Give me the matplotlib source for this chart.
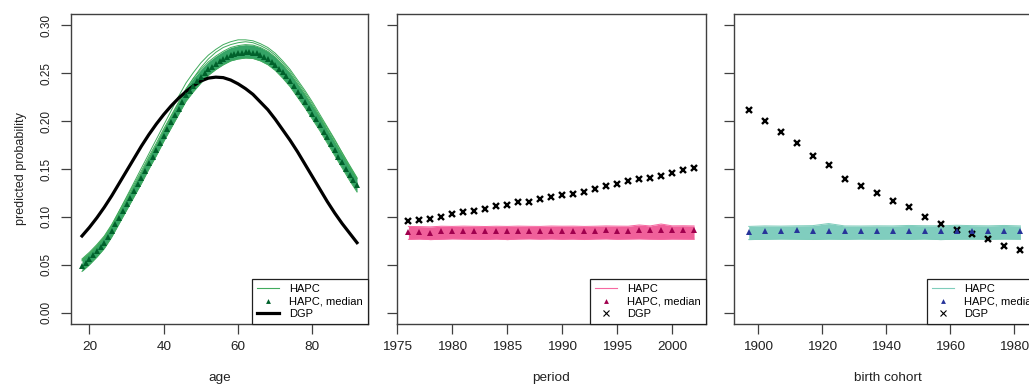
import matplotlib
matplotlib.use("Agg")
import matplotlib.pyplot as plt
from matplotlib.lines import Line2D

plt.rcParams['font.family'] = ['Liberation Sans', 'DejaVu Sans']

# ---- age panel ----
age = list(range(18, 93))
age_med = [0.049, 0.052, 0.056, 0.060, 0.064, 0.068, 0.073, 0.079, 0.085, 0.092,
           0.099, 0.106, 0.113, 0.120, 0.127, 0.134, 0.141, 0.148, 0.156, 0.163,
           0.170, 0.177, 0.185, 0.192, 0.199, 0.206, 0.213, 0.220, 0.227, 0.232,
           0.237, 0.242, 0.246, 0.250, 0.254, 0.257, 0.260, 0.263, 0.265, 0.267,
           0.269, 0.270, 0.271, 0.2715, 0.272, 0.272, 0.2715, 0.271, 0.269, 0.267,
           0.265, 0.262, 0.259, 0.255, 0.251, 0.247, 0.242, 0.237, 0.231, 0.226,
           0.220, 0.214, 0.208, 0.202, 0.196, 0.189, 0.183, 0.176, 0.170, 0.163,
           0.157, 0.150, 0.144, 0.138, 0.133]

age_sim = list(range(18, 93, 2))
age_lo = [0.043, 0.050, 0.058, 0.067, 0.079, 0.093, 0.107, 0.121, 0.135, 0.150,
          0.164, 0.179, 0.193, 0.207, 0.221, 0.231, 0.240, 0.248, 0.254, 0.259,
          0.263, 0.265, 0.266, 0.2655, 0.263, 0.259, 0.253, 0.245, 0.236, 0.225,
          0.214, 0.202, 0.190, 0.177, 0.164, 0.151, 0.138, 0.126]
age_hi = [0.056, 0.063, 0.071, 0.080, 0.092, 0.106, 0.120, 0.134, 0.148, 0.163,
          0.177, 0.192, 0.206, 0.220, 0.234, 0.245, 0.254, 0.262, 0.268, 0.273,
          0.277, 0.279, 0.280, 0.2795, 0.277, 0.273, 0.267, 0.259, 0.250, 0.239,
          0.228, 0.216, 0.204, 0.191, 0.178, 0.165, 0.152, 0.140]
age_out1 = [0.055, 0.062, 0.070, 0.079, 0.091, 0.106, 0.121, 0.136, 0.151, 0.166,
            0.181, 0.196, 0.211, 0.226, 0.240, 0.251, 0.261, 0.269, 0.275, 0.280,
            0.283, 0.285, 0.285, 0.284, 0.281, 0.277, 0.271, 0.263, 0.254, 0.243,
            0.232, 0.220, 0.207, 0.194, 0.181, 0.167, 0.154, 0.141]
age_out2 = [0.054, 0.061, 0.069, 0.078, 0.090, 0.104, 0.118, 0.132, 0.146, 0.161,
            0.175, 0.190, 0.205, 0.219, 0.233, 0.245, 0.256, 0.265, 0.272, 0.277,
            0.280, 0.282, 0.283, 0.282, 0.279, 0.275, 0.269, 0.261, 0.252, 0.241,
            0.230, 0.218, 0.205, 0.193, 0.180, 0.167, 0.153, 0.140]

age_dgp_x = list(range(18, 93, 2))
age_dgp = [0.080, 0.089, 0.099, 0.110, 0.122, 0.135, 0.148, 0.161, 0.174, 0.186,
           0.197, 0.207, 0.216, 0.224, 0.231, 0.237, 0.242, 0.245, 0.246, 0.2455,
           0.243, 0.239, 0.234, 0.228, 0.220, 0.212, 0.202, 0.191, 0.180, 0.168,
           0.155, 0.142, 0.129, 0.116, 0.104, 0.093, 0.083, 0.073]

# ---- period panel ----
period = list(range(1976, 2003))
period_med = [0.0846, 0.0842, 0.0835, 0.0853, 0.0853, 0.0853, 0.0853, 0.0853, 0.0849,
              0.0853, 0.0853, 0.0853, 0.0853, 0.0856, 0.0856, 0.0856, 0.0853, 0.0853,
              0.0860, 0.0856, 0.0856, 0.0863, 0.0860, 0.0860, 0.0860, 0.0863, 0.0860]
period_lo = [0.0765, 0.0768, 0.0762, 0.0766, 0.0770, 0.0768, 0.0766, 0.0764, 0.0768,
             0.0762, 0.0768, 0.0770, 0.0767, 0.0769, 0.0766, 0.0768, 0.0763, 0.0768,
             0.0770, 0.0766, 0.0768, 0.0770, 0.0767, 0.0765, 0.0768, 0.0767, 0.0766]
period_hi = [0.0900, 0.0898, 0.0895, 0.0902, 0.0900, 0.0903, 0.0901, 0.0899, 0.0902,
             0.0900, 0.0903, 0.0901, 0.0900, 0.0904, 0.0902, 0.0903, 0.0900, 0.0902,
             0.0905, 0.0903, 0.0902, 0.0915, 0.0905, 0.0925, 0.0906, 0.0907, 0.0905]
period_dgp = [0.0961, 0.0971, 0.0981, 0.0999, 0.1030, 0.1055, 0.1065, 0.1086, 0.1110,
              0.1124, 0.1152, 0.1159, 0.1183, 0.1211, 0.1232, 0.1243, 0.1256, 0.1291,
              0.1319, 0.1344, 0.1371, 0.1396, 0.1403, 0.1431, 0.1462, 0.1486, 0.1511]

# ---- cohort panel ----
cohort = list(range(1897, 1983, 5))
cohort_med = [0.0846, 0.0853, 0.0853, 0.0860, 0.0853, 0.0856, 0.0849, 0.0853, 0.0853,
              0.0853, 0.0853, 0.0853, 0.0853, 0.0856, 0.0856, 0.0856, 0.0856, 0.0853]
cohort_lo = [0.0762, 0.0765, 0.0768, 0.0766, 0.0763, 0.0767, 0.0765, 0.0768, 0.0766,
             0.0767, 0.0765, 0.0768, 0.0762, 0.0766, 0.0767, 0.0765, 0.0768, 0.0766]
cohort_hi = [0.0900, 0.0905, 0.0903, 0.0906, 0.0908, 0.0930, 0.0905, 0.0904, 0.0906,
             0.0905, 0.0910, 0.0907, 0.0906, 0.0912, 0.0908, 0.0906, 0.0910, 0.0905]
cohort_dgp = [0.2116, 0.2005, 0.1883, 0.1772, 0.1632, 0.1545, 0.1392, 0.1319, 0.1246,
              0.1166, 0.1100, 0.0995, 0.0929, 0.0867, 0.0818, 0.0766, 0.0696, 0.0651]

yticks = [0.00, 0.05, 0.10, 0.15, 0.20, 0.25, 0.30]
spine_col = '#404040'

W, H = 1029, 387
fig = plt.figure(figsize=(W / 100, H / 100), dpi=100)
ax1 = fig.add_axes([71 / W, 1 - 324 / H, 297 / W, 310 / H])
ax2 = fig.add_axes([397 / W, 1 - 324 / H, 308.5 / W, 310 / H])
ax3 = fig.add_axes([734 / W, 1 - 324 / H, 308.5 / W, 310 / H])


def style(ax, xlim, xticks, xlabel, ylab):
    ax.set_xlim(*xlim)
    ax.set_ylim(-0.012, 0.312)
    ax.set_xticks(xticks)
    ax.set_yticks(yticks)
    for s in ax.spines.values():
        s.set_color(spine_col)
        s.set_linewidth(1.0)
    ax.tick_params(axis='both', direction='out', length=7, width=0.9, color=spine_col)
    ax.tick_params(axis='x', labelsize=9.7, pad=5, labelcolor='#222222')
    ax.tick_params(axis='y', labelsize=8.5, pad=6, labelcolor='#222222')
    if ylab:
        ax.set_yticklabels([f'{v:.2f}' for v in yticks], rotation=90, va='center')
        ax.set_ylabel('predicted probability', fontsize=9, color='#222222', labelpad=10)
    else:
        ax.set_yticklabels([])
    ax.set_xlabel(xlabel, fontsize=9.7, color='#222222', labelpad=14)


def legend(ax, handles):
    leg = ax.legend(handles=handles, loc='lower right', fontsize=8, frameon=True,
                    fancybox=False, framealpha=1, edgecolor='#202020',
                    borderaxespad=0, borderpad=0.45, labelspacing=0.22,
                    handlelength=2.0, handletextpad=0.9)
    leg.get_frame().set_linewidth(0.9)


# age
g_line, g_band, g_med = '#41AB5D', '#35A466', '#00612B'
ax1.fill_between(age_sim, age_lo, age_hi, color=g_band, lw=0, zorder=1)
for ys in (age_lo, age_hi, age_out1, age_out2):
    ax1.plot(age_sim, ys, color=g_line, lw=0.7, zorder=2)
ax1.plot(age_dgp_x, age_dgp, color='black', lw=2.3, zorder=3)
ax1.plot(age, age_med, ls='none', marker='^', ms=4.2, color=g_med, mew=0, zorder=4)
style(ax1, (15.04, 94.96), [20, 40, 60, 80], 'age', True)
legend(ax1, [Line2D([], [], color=g_line, lw=0.8, label='HAPC'),
             Line2D([], [], ls='none', marker='^', ms=3.5, mew=0, color=g_med, label='HAPC, median'),
             Line2D([], [], color='black', lw=2.3, label='DGP')])

# period
p_line, p_band, p_med = '#F768A1', '#F0609A', '#A0004E'
ax2.fill_between(period, period_lo, period_hi, color=p_band, lw=0, zorder=1)
for ys in (period_lo, period_hi):
    ax2.plot(period, ys, color=p_line, lw=0.7, zorder=2)
ax2.plot(period, period_dgp, ls='none', marker='x', ms=4, mew=1.7, color='black', zorder=3)
ax2.plot(period, period_med, ls='none', marker='^', ms=5, mew=0, color=p_med, zorder=4)
style(ax2, (1974.96, 2003.04), [1975, 1980, 1985, 1990, 1995, 2000], 'period', False)
legend(ax2, [Line2D([], [], color=p_line, lw=0.8, label='HAPC'),
             Line2D([], [], ls='none', marker='^', ms=3.5, mew=0, color=p_med, label='HAPC, median'),
             Line2D([], [], ls='none', marker='x', ms=4, mew=0.8, color='black', label='DGP')])

# cohort
c_line, c_band, c_med = '#7FCDBB', '#80CDBE', '#27349A'
ax3.fill_between(cohort, cohort_lo, cohort_hi, color=c_band, lw=0, zorder=1)
for ys in (cohort_lo, cohort_hi):
    ax3.plot(cohort, ys, color=c_line, lw=0.7, zorder=2)
ax3.plot(cohort, cohort_dgp, ls='none', marker='x', ms=4, mew=1.7, color='black', zorder=3)
ax3.plot(cohort, cohort_med, ls='none', marker='^', ms=5, mew=0, color=c_med, zorder=4)
style(ax3, (1892.4, 1988.9), [1900, 1920, 1940, 1960, 1980], 'birth cohort', False)
legend(ax3, [Line2D([], [], color=c_line, lw=0.8, label='HAPC'),
             Line2D([], [], ls='none', marker='^', ms=3.5, mew=0, color=c_med, label='HAPC, median'),
             Line2D([], [], ls='none', marker='x', ms=4, mew=0.8, color='black', label='DGP')])

fig.savefig('out.png', dpi=100)
